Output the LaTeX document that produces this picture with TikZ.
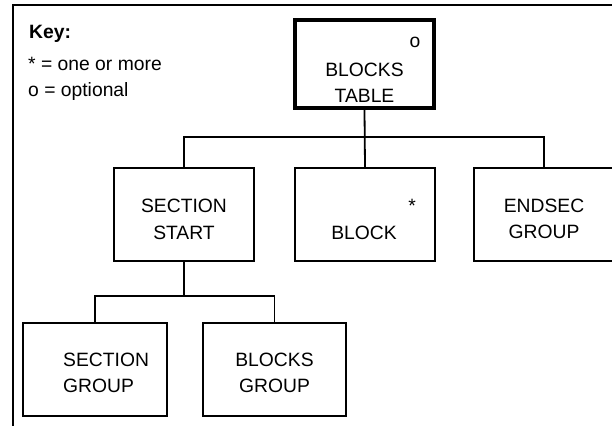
\documentclass[tikz,border=0pt]{standalone}
\usepackage{fontspec}
\setmainfont{Liberation Sans}
\begin{document}
\begin{tikzpicture}[x=1pt,y=-1pt,
  box/.style={draw, line width=1.8pt, minimum width=140pt, minimum height=93pt, inner sep=0pt},
  thickbox/.style={draw, line width=4pt, minimum width=139pt, minimum height=88pt, inner sep=0pt},
  lbl/.style={inner sep=0pt, anchor=base, font=\fontsize{19.3}{26}\selectfont},
  lblw/.style={lbl, anchor=base west},
  conn/.style={line width=1.8pt}]
\useasboundingbox (0,0) rectangle (612,425);
% frame (cut by the picture edges)
\draw[line width=1.8pt] (13,440) -- (13,5) -- (630,5);
% key
\node[lblw, font=\fontsize{19.3}{26}\selectfont\bfseries] (key) at (29,39) {Key:};
\node[lblw] (key1) at (28,70.5) {* = one or more};
\node[lblw] (key2) at (28,97) {o = optional};
% boxes
\node[thickbox] (bt) at (364.5,64) {};
\node[box] (ss) at (184,214.5) {};
\node[box] (blk) at (365,214.5) {};
\node[box] (es) at (544,214.5) {};
\node[box, minimum width=144pt] (sg) at (95,369.5) {};
\node[box, minimum width=143pt] (bg) at (274.5,369.5) {};
% texts
\node[lbl] (bto) at (415,47.5) {o};
\node[lbl] (bt1) at (364.5,77) {BLOCKS};
\node[lbl] (bt2) at (364.5,102.5) {TABLE};
\node[lbl] (ss1) at (184,212) {SECTION};
\node[lbl] (ss2) at (184,239) {START};
\node[lbl] (blks) at (412,212) {*};
\node[lbl] (blk1) at (364,239) {BLOCK};
\node[lbl] (es1) at (544,212) {ENDSEC};
\node[lbl] (es2) at (544,238) {GROUP};
\node[lblw] (sg1) at (63,366) {SECTION};
\node[lblw] (sg2) at (63,392) {GROUP};
\node[lbl] (bg1) at (274.5,366) {BLOCKS};
\node[lbl] (bg2) at (274.5,392) {GROUP};
% connectors
\coordinate (bus) at (365,137);
\coordinate (bus2) at (184,296);
\draw[conn] (bt.south) -- (blk.north);
\draw[conn] (ss.north) |- (bus) -| (es.north);
\draw[conn] (ss.south) -- (bus2);
\draw[conn] (sg.north) |- (bus2) -| (bg.north);
\end{tikzpicture}
\end{document}
